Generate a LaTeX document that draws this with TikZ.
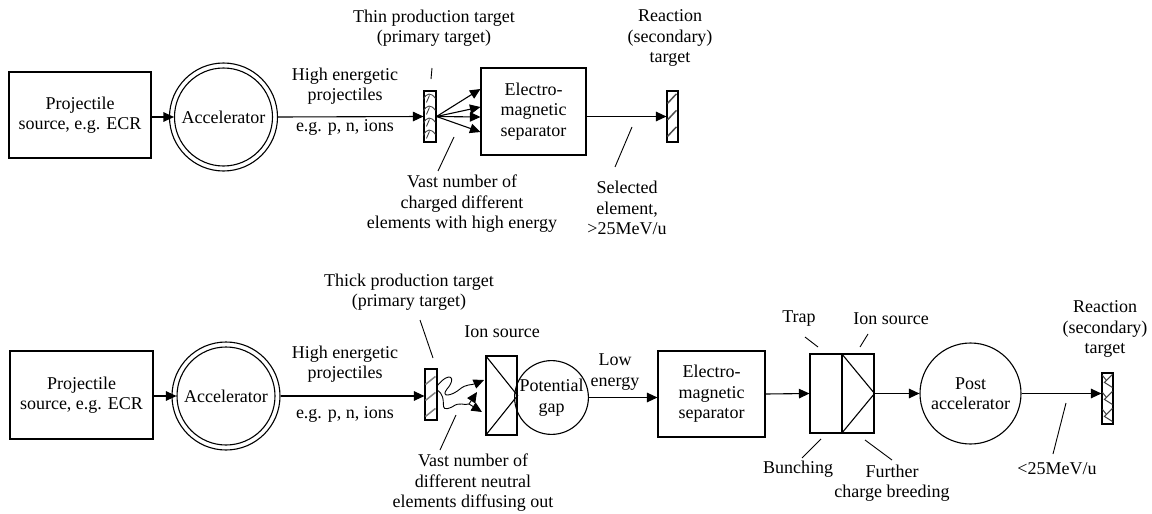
\documentclass[tikz,border=0pt]{standalone}
\usepackage{fontspec}
\setmainfont{Liberation Serif}
\usetikzlibrary{arrows.meta,calc}
\begin{document}
\begin{tikzpicture}[x=1pt,y=-1pt,
  font=\fontsize{18}{20.5}\selectfont,
  line width=1.1pt,
  box/.style={draw, rectangle, inner sep=0pt, align=center},
  circ/.style={draw, circle, inner sep=0pt, align=center},
  lbl/.style={align=center, inner sep=0pt},
  arr/.style={-{Triangle[length=10.5pt,width=9.5pt]}},
  tgt/.style={draw, rectangle, inner sep=0pt, minimum width=12pt, minimum height=51pt},
  hatch/.style={line width=1.5pt, draw=black!70},
  ptr/.style={line width=0.9pt}]
\useasboundingbox (0,0) rectangle (1152,514);

% ---------------- top row ----------------
\node[box, minimum width=142pt, minimum height=86pt] (src1) at (80,115) {Projectile\\source, e.g. ECR};
\node[circ, minimum size=108pt] (acc1) at (223.5,117) {};
\node[circ, minimum size=98pt] (acc1i) at (223.5,117) {Accelerator};
\node[tgt] (tgt1) at (430,116.5) {};
\node[box, minimum width=105pt, minimum height=87pt] (sep1) at (533.5,111.5) {Electro-\\magnetic\\separator};
\node[tgt, minimum width=11pt] (tgt1b) at (672.5,116.5) {};

% hatching of targets
\begin{scope}
  \clip (tgt1.north west) rectangle (tgt1.south east);
  \begin{scope}[shift={(tgt1.north west)}]
    \foreach \i in {0,1,2,3} {
      \draw[line width=0.9pt, draw=black!75] (0,9+12*\i) .. controls (3,2+12*\i) and (8,2+12*\i) .. (12,8+12*\i);
      \draw[line width=0.9pt, draw=black!75] (6,5+12*\i) -- (3,12+12*\i);
    }
  \end{scope}
\end{scope}
\begin{scope}
  \clip (tgt1b.north west) rectangle (tgt1b.south east);
  \begin{scope}[shift={(tgt1b.north west)}]
    \foreach \i in {0,1,2} {
      \draw[hatch] (1,13+16.5*\i) -- (8,5.5+16.5*\i) -- (10,3.5+16.5*\i);
    }
  \end{scope}
\end{scope}

\draw[arr] (src1.east |- acc1.west) -- (acc1i.west);
\draw[arr] (acc1.east) -- (tgt1.west);
\draw[arr] (tgt1.east) -- ([yshift=22.5pt]sep1.west);
\draw[arr] (tgt1.east) -- ([yshift=4.5pt]sep1.west);
\draw[arr] (tgt1.east) -- ([yshift=-5.5pt]sep1.west);
\draw[arr] (tgt1.east) -- ([yshift=-20.5pt]sep1.west);
\draw[arr] (sep1.east |- tgt1b.west) -- (tgt1b.west);

\node[lbl] (he1) at (345,86) {High energetic\\projectiles};
\node[lbl] (eg1) at (345,127) {e.g. p, n, ions};
\node[lbl] (thin) at (434,28) {Thin production target\\(primary target)};
\node[lbl] (vast1) at (462,204) {Vast number of\\charged different\\elements with high energy};
\node[lbl] (react1) at (670,38) {Reaction\\(secondary)\\target};
\node[lbl] (sel1) at (627,208) {Selected\\element,\\>25MeV/u};

\coordinate (p1a) at (432,68); \coordinate (p1b) at (431,79);
\draw[ptr] (p1a) -- (p1b);
\coordinate (p2a) at (454,137); \coordinate (p2b) at (438,171);
\draw[ptr] (p2a) -- (p2b);
\coordinate (p3a) at (632,127); \coordinate (p3b) at (615,167);
\draw[ptr] (p3a) -- (p3b);

% ---------------- bottom row ----------------
\node[box, minimum width=143pt, minimum height=88pt] (src2) at (81.5,395) {Projectile\\source, e.g. ECR};
\node[circ, minimum size=108pt] (acc2) at (226,396) {};
\node[circ, minimum size=98pt] (acc2i) at (226,396) {Accelerator};
\node[tgt] (tgt2) at (431,394.5) {};
\node[box, minimum width=31pt, minimum height=79pt] (ion1) at (501.5,395.5) {};
\draw (ion1.north west) -- (ion1.east) -- (ion1.south west);
\node[circ, minimum size=66pt] (gap) at (551.5,397.5) {Potential\\gap};
\node[box, minimum width=107pt, minimum height=86pt] (sep2) at (711.5,394) {Electro-\\magnetic\\separator};
\node[box, minimum width=32pt, minimum height=79pt] (trap) at (826,393.5) {};
\node[box, minimum width=32pt, minimum height=79pt] (ion2) at (858,393.5) {};
\draw (ion2.north west) -- (ion2.east) -- (ion2.south west);
\node[circ, minimum size=101pt] (post) at (970.5,393.5) {Post\\accelerator};
\node[tgt, minimum width=11pt] (tgt2b) at (1107.5,398.5) {};

\begin{scope}
  \clip (tgt2.north west) rectangle (tgt2.south east);
  \begin{scope}[shift={(tgt2.north west)}]
    \foreach \i in {0,1,2} {
      \draw[line width=1.5pt, draw=black!50] (1,16+16*\i) -- (11,8+16*\i);
    }
  \end{scope}
\end{scope}
\begin{scope}
  \clip (tgt2b.north west) rectangle (tgt2b.south east);
  \begin{scope}[shift={(tgt2b.north west)}]
    \foreach \i in {0,1,2} {
      \draw[line width=1pt, draw=black!75] (11,2+17*\i) -- (3,10+17*\i) -- (11,15+17*\i);
      \draw[line width=1pt, draw=black!75] (1,3+17*\i) -- (5,8+17*\i);
    }
  \end{scope}
\end{scope}

\draw[arr] (src2.east |- acc2.west) -- (acc2i.west);
\draw[arr] (acc2.east) -- (tgt2.west |- acc2.east);
\draw[arr] (gap.east) -- (sep2.west |- gap.east);
\draw[arr] (sep2.east) -- (trap.west);
\draw[arr] (ion2.east) -- (post.west);
\draw[arr] (post.east) -- (post.east -| tgt2b.west);

% wiggly paths of neutral elements
\coordinate (w1s) at (437,386);
\coordinate (w1e) at (484,380);
\draw[arr, line width=0.9pt] (w1s) .. controls (450,370) and (457,378) .. (447,389)
   .. controls (440,398) and (452,396) .. (460,389)
   .. controls (466,384) and (472,385) .. (w1e);
\coordinate (w2s) at (437,390);
\coordinate (w2m) at (469,404);
\draw[line width=0.9pt] (w2s) .. controls (450,398) and (436,414) .. (452,407)
   .. controls (460,401) and (464,406) .. (w2m);
\coordinate (w2e1) at (477,392);
\coordinate (w2e2) at (482,412);
\draw[arr, line width=0.9pt] (w2m) -- (w2e1);
\draw[arr, line width=0.9pt] (w2m) -- (w2e2);

\node[lbl] (he2) at (345,364) {High energetic\\projectiles};
\node[lbl] (eg2) at (345,414) {e.g. p, n, ions};
\node[lbl] (thick) at (409,292) {Thick production target\\(primary target)};
\node[lbl] (ionl1) at (502,332) {Ion source};
\node[lbl] (low) at (615,372) {Low\\energy};
\node[lbl] (vast2) at (473,483) {Vast number of\\different neutral\\elements diffusing out};
\node[lbl] (trapl) at (799,319) {Trap};
\node[lbl] (ionl2) at (891,319) {Ion source};
\node[lbl] (bunch) at (798,469) {Bunching};
\node[lbl] (further) at (892,483) {Further\\charge breeding};
\node[lbl] (lt25) at (1057,469) {<25MeV/u};
\node[lbl] (react2) at (1105,329) {Reaction\\(secondary)\\target};

\coordinate (q1a) at (420,320); \coordinate (q1b) at (433,358);
\draw[ptr] (q1a) -- (q1b);
\coordinate (q2a) at (456,415); \coordinate (q2b) at (440,450);
\draw[ptr] (q2a) -- (q2b);
\coordinate (q3a) at (805,337); \coordinate (q3b) at (818,347);
\draw[ptr] (q3a) -- (q3b);
\coordinate (q4a) at (868,334); \coordinate (q4b) at (860,347);
\draw[ptr] (q4a) -- (q4b);
\coordinate (q5a) at (821,439); \coordinate (q5b) at (802,458);
\draw[ptr] (q5a) -- (q5b);
\coordinate (q6a) at (865,440); \coordinate (q6b) at (892,460);
\draw[ptr] (q6a) -- (q6b);
\coordinate (q7a) at (1066,403); \coordinate (q7b) at (1053,454);
\draw[ptr] (q7a) -- (q7b);
\end{tikzpicture}
\end{document}
